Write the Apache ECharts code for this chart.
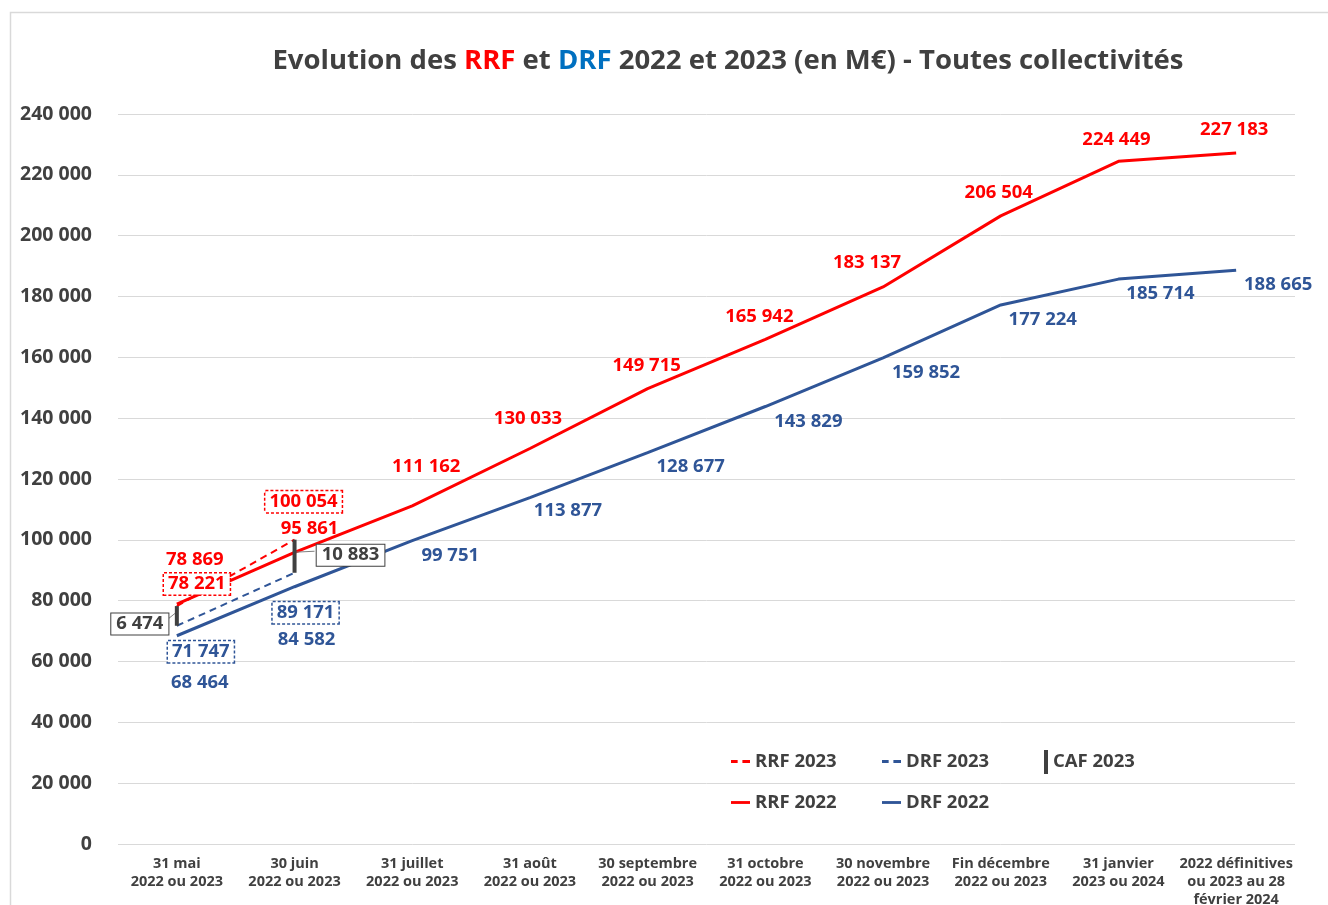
<!DOCTYPE html>
<html>
<head>
<meta charset="utf-8">
<script src="https://cdn.jsdelivr.net/npm/echarts@6/dist/echarts.min.js"></script>
<style>
  html, body { margin: 0; padding: 0; background: #fff; }
  #chart { width: 1328px; height: 905px; }
</style>
</head>
<body>
<div id="chart"></div>
<script>
// categories (x axis)
const categories = [
  '31 mai\n2022 ou 2023',
  '30 juin\n2022 ou 2023',
  '31 juillet\n2022 ou 2023',
  '31 août\n2022 ou 2023',
  '30 septembre\n2022 ou 2023',
  '31 octobre\n2022 ou 2023',
  '30 novembre\n2022 ou 2023',
  'Fin décembre\n2022 ou 2023',
  '31 janvier\n2023 ou 2024',
  '2022 définitives\nou 2023 au 28\nfévrier 2024'
]

// values in M€
const rrf2022 = [78869, 95861, 111162, 130033, 149715, 165942, 183137, 206504, 224449, 227183]
const drf2022 = [68464, 84582, 99751, 113877, 128677, 143829, 159852, 177224, 185714, 188665]
const rrf2023 = [78221, 100054]
const drf2023 = [71747, 89171]
// CAF = RRF - DRF (2023)
const caf2023 = rrf2023.map((v, i) => v - drf2023[i])

// label shifts (px), relative to the point
const rrf22Shift = [[18, -44], [15, -24], [14, -39], [-2, -30], [-1, -23], [-6, -23], [-16, -24], [-2, -23], [-2, -22], [-2, -23]]
const drf22Shift = [[23, 47], [12, 53], [38, 15], [38, 13], [43, 14], [43, 15], [43, 15], [42, 15], [42, 15], [42, 15]]
const rrf23Shift = [[20, -22], [9, -38]]
const drf23Shift = [[24, 26], [11, 40]]
const cafShift = [[-37, 8], [56, -1]]

const RED = '#FF0000'
const BLUE = '#2F5597'
const GREY = '#404040'
const FONT = '"Open Sans", "DejaVu Sans", sans-serif'

const ICON_SOLID = 'path://M0,0h20v3h-20z'
const ICON_DASH = 'path://M0,0h7v3h-7z M12,0h8v3h-8z'

const fmt = (v) => String(v).replace(/\B(?=(\d{3})+(?!\d))/g, ' ')

const labelData = (values, shifts, color, boxed) =>
  values.map((v, i) => ({
    value: v,
    label: {
      show: true,
      position: 'inside',
      offset: shifts[i],
      color: color,
      opacity: 1,
      fontFamily: FONT,
      fontWeight: 'bold',
      fontSize: 18.5,
      formatter: (p) => fmt(p.value),
      ...(boxed
        ? {
            borderColor: color,
            borderType: [3, 2],
            borderWidth: 1.5,
            backgroundColor: '#fff',
            padding: [2, 4, 0, 4],
          }
        : {}),
    },
  }))

const legendText = {
  color: GREY,
  fontFamily: FONT,
  fontWeight: 'bold',
  fontSize: 18.5,
}

const mkLegend = (name, left, top, extra) => ({
  data: [name],
  left: left,
  top: top,
  padding: 0,
  itemWidth: 19,
  itemHeight: 3,
  itemGap: 0,
  textStyle: legendText,
  selectedMode: false,
  ...(extra || {}),
})

const myChart = echarts.init(document.getElementById('chart'))

const lineSeries = (name, values, shifts, color, dashed) => ({
  name: name,
  type: 'line',
  symbol: 'circle',
  symbolSize: 1,
  showSymbol: true,
  itemStyle: { color: 'rgba(0,0,0,0)' },
  color: color,
  lineStyle: dashed ? { color: color, width: 2, type: [7, 5] } : { color: color, width: 3 },
  data: labelData(values, shifts, color, dashed),
  z: dashed ? 4 : 3,
})

const option = {
  backgroundColor: '#fff',
  animation: false,
  title: {
    text: 'Evolution des {r|RRF} et {b|DRF} 2022 et 2023 (en M€) - Toutes collectivités',
    left: 723,
    textAlign: 'center',
    top: 42,
    textStyle: {
      color: GREY,
      fontFamily: FONT,
      fontWeight: 'bold',
      fontSize: 27.5,
      rich: {
        r: { color: RED, fontFamily: FONT, fontWeight: 'bold', fontSize: 27.5 },
        b: { color: '#0070C0', fontFamily: FONT, fontWeight: 'bold', fontSize: 27.5 },
      },
    },
  },
  graphic: [
    {
      type: 'rect',
      left: 8,
      top: 10,
      shape: { width: 1340, height: 920 },
      style: { fill: 'none', stroke: '#D9D9D9', lineWidth: 1.5 },
      silent: true,
      z: -10,
    },
  ],
  legend: [
    mkLegend('RRF 2023', 731, 752, { icon: ICON_DASH, itemStyle: { color: RED } }),
    mkLegend('DRF 2023', 882, 752, { icon: ICON_DASH, itemStyle: { color: BLUE } }),
    mkLegend('CAF 2023', 1044, 750, { itemWidth: 4, itemHeight: 24, icon: 'rect', itemStyle: { color: GREY } }),
    mkLegend('RRF 2022', 731, 793, { icon: ICON_SOLID, itemStyle: { color: RED } }),
    mkLegend('DRF 2022', 882, 793, { icon: ICON_SOLID, itemStyle: { color: BLUE } }),
  ],
  grid: {
    left: 118,
    right: 33,
    top: 114,
    bottom: 61,
    outerBoundsMode: 'none',
  },
  xAxis: {
    type: 'category',
    data: categories,
    boundaryGap: true,
    axisLine: { show: false },
    axisTick: { show: false },
    axisLabel: {
      interval: 0,
      margin: 11,
      color: GREY,
      fontFamily: FONT,
      fontWeight: 'bold',
      fontSize: 14.5,
      lineHeight: 18,
    },
  },
  yAxis: {
    type: 'value',
    min: 0,
    max: 240000,
    interval: 20000,
    axisLine: { show: false },
    axisTick: { show: false },
    splitLine: { lineStyle: { color: '#D9D9D9', width: 1 } },
    axisLabel: {
      margin: 26,
      color: GREY,
      fontFamily: FONT,
      fontWeight: 'bold',
      fontSize: 19.5,
      formatter: (v) => fmt(v),
    },
  },
  series: [
    lineSeries('RRF 2022', rrf2022, rrf22Shift, RED, false),
    lineSeries('DRF 2022', drf2022, drf22Shift, BLUE, false),
    lineSeries('RRF 2023', rrf2023, rrf23Shift, RED, true),
    lineSeries('DRF 2023', drf2023, drf23Shift, BLUE, true),
    {
      name: 'CAF 2023',
      type: 'custom',
      color: GREY,
      z: 5,
      data: caf2023.map((c, i) => [i, drf2023[i], rrf2023[i], c]),
      renderItem: (params, api) => {
        const lo = api.coord([api.value(0), api.value(1)])
        const hi = api.coord([api.value(0), api.value(2)])
        const sh = cafShift[params.dataIndex]
        const mid = [lo[0], (lo[1] + hi[1]) / 2]
        const cx = lo[0] + sh[0]
        const cy = mid[1] + sh[1]
        const edge = sh[0] < 0 ? cx + 27 : cx - 36
        return {
          type: 'group',
          children: [
            {
              type: 'line',
              shape: { x1: mid[0], y1: mid[1] - 4, x2: edge, y2: cy - 4 },
              style: { stroke: '#7F7F7F', lineWidth: 1 },
            },
            {
              type: 'line',
              shape: { x1: lo[0], y1: lo[1], x2: hi[0], y2: hi[1] },
              style: { stroke: GREY, lineWidth: 4 },
            },
            {
              type: 'text',
              x: cx,
              y: cy,
              style: {
                text: fmt(api.value(3)),
                fill: GREY,
                font: 'bold 18.5px ' + FONT,
                align: 'center',
                verticalAlign: 'middle',
                backgroundColor: '#fff',
                borderColor: GREY,
                borderWidth: 1,
                padding: [2, 5, 0, 5],
              },
            },
          ],
        }
      },
    },
  ],
}

option && myChart.setOption(option)
</script>
</body>
</html>
